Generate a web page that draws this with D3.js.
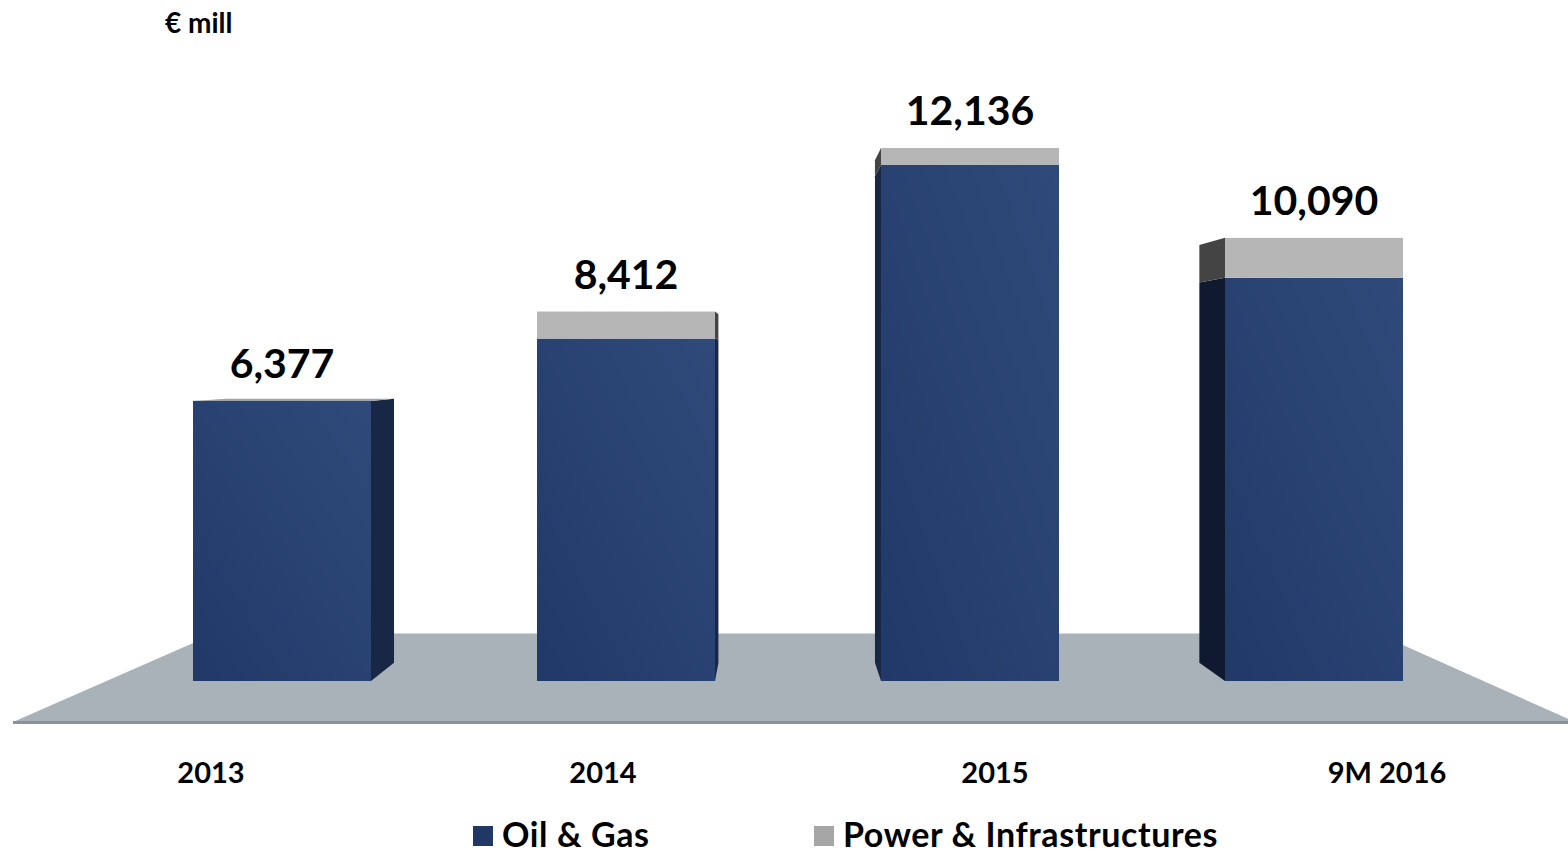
<!DOCTYPE html>
<html>
<head>
<meta charset="utf-8">
<script src="https://cdn.jsdelivr.net/npm/d3@7"></script>
<style>
  html, body { margin: 0; padding: 0; background: #fff; }
  svg { display: block; font-family: Lato, "Open Sans", sans-serif; }
</style>
</head>
<body>
<svg id="chart" width="1568" height="853"></svg>
<script>
const categories = ["2013", "2014", "2015", "9M 2016"];
const oilGas = [6377, 7797, 11749, 9179];
const powerInfra = [0, 615, 387, 911];
const totalLabels = ["6,377", "8,412", "12,136", "10,090"];
const seriesNames = ["Oil & Gas", "Power & Infrastructures"];

const svg = d3.select("#chart");

// layout
const BASE_Y = 681;
const VP = { x: 775, y: 361 };   // vanishing point for the box depth
const DEPTH_K = 0.943;

const x = d3.scaleBand()
  .domain(categories)
  .range([110, 1486])
  .paddingInner(0.4826)
  .paddingOuter(0.2413);

const y = d3.scaleLinear()
  .domain([0, 12136])
  .range([BASE_Y, 148]);

const xLabel = d3.scalePoint()
  .domain(categories)
  .range([211, 1387]);

const back = (px, py) => [VP.x + DEPTH_K * (px - VP.x), VP.y + DEPTH_K * (py - VP.y)];

// blue gradient on front faces
const defs = svg.append("defs");
const grad = defs.append("linearGradient")
  .attr("id", "blueFront")
  .attr("x1", "0%").attr("y1", "100%")
  .attr("x2", "100%").attr("y2", "0%");
grad.append("stop").attr("offset", "0%").attr("stop-color", "#213967");
grad.append("stop").attr("offset", "100%").attr("stop-color", "#2f4a7a");

// floor
svg.append("polygon")
  .attr("points", [[13, 722], [216, 633], [1376, 633], [1575, 722]].join(" "))
  .attr("fill", "#a9b2b9");
svg.append("line")
  .attr("x1", 216).attr("x2", 1376)
  .attr("y1", 633.5).attr("y2", 633.5)
  .attr("stroke", "#d3d8dc").attr("stroke-width", 1);
svg.append("rect")
  .attr("x", 13).attr("y", 721)
  .attr("width", 1555).attr("height", 3)
  .attr("fill", "#8d9196");

// stacked segments
const segments = [];
categories.forEach((c, i) => {
  segments.push({ cat: c, y0: 0, y1: oilGas[i], front: "url(#blueFront)", side: i === 3 ? "#0f1a30" : "#182744", topCol: "#9ea4ad" });
  if (powerInfra[i] > 0) {
    segments.push({ cat: c, y0: oilGas[i], y1: oilGas[i] + powerInfra[i], front: "#b6b6b6", side: "#444", topCol: "#cfcfcf" });
  }
});

const bars = svg.append("g").attr("class", "bars");

segments.forEach(s => {
  const xl = x(s.cat), xr = xl + x.bandwidth();
  const yt = y(s.y1), yb = y(s.y0);
  const g = bars.append("g");

  // side face toward the vanishing point
  const ex = xr < VP.x ? xr : xl;
  const bt = back(ex, yt), bb = back(ex, yb);
  g.append("polygon")
    .attr("points", [[ex, yt], bt, bb, [ex, yb]].join(" "))
    .attr("fill", s.side);

  g.append("rect")
    .attr("x", xl).attr("y", yt)
    .attr("width", x.bandwidth()).attr("height", yb - yt)
    .attr("fill", s.front);

  // top face, only when it is seen from above
  const bl = back(xl, yt), br = back(xr, yt);
  if (bl[1] < yt) {
    g.append("polygon")
      .attr("points", [[xl, yt], bl, br, [xr, yt]].join(" "))
      .attr("fill", s.topCol);
  }
});

// totals
svg.append("g").selectAll("text")
  .data(categories)
  .join("text")
  .attr("x", d => x(d) + x.bandwidth() / 2)
  .attr("y", (d, i) => y(oilGas[i] + powerInfra[i]) - 23)
  .attr("text-anchor", "middle")
  .attr("font-size", 41)
  .attr("font-weight", 700)
  .attr("fill", "#000")
  .text((d, i) => totalLabels[i]);

// category labels
svg.append("g").selectAll("text")
  .data(categories)
  .join("text")
  .attr("x", d => xLabel(d))
  .attr("y", 783)
  .attr("text-anchor", "middle")
  .attr("font-size", 29)
  .attr("font-weight", 700)
  .attr("fill", "#000")
  .text(d => d);

// unit
svg.append("text")
  .attr("x", 165).attr("y", 33)
  .attr("font-size", 28)
  .attr("font-weight", 700)
  .text("€ mill");

// legend
const legendX = [473, 814];
const legendCol = ["#1f3864", "#a6a6a6"];
const lg = svg.append("g").selectAll("g")
  .data(seriesNames)
  .join("g")
  .attr("transform", (d, i) => `translate(${legendX[i]},826)`);
lg.append("rect")
  .attr("width", 20).attr("height", 20)
  .attr("fill", (d, i) => legendCol[i]);
lg.append("text")
  .attr("x", 29).attr("y", 21)
  .attr("font-size", 34)
  .attr("font-weight", 700)
  .attr("letter-spacing", 0.6)
  .text(d => d);
</script>
</body>
</html>
